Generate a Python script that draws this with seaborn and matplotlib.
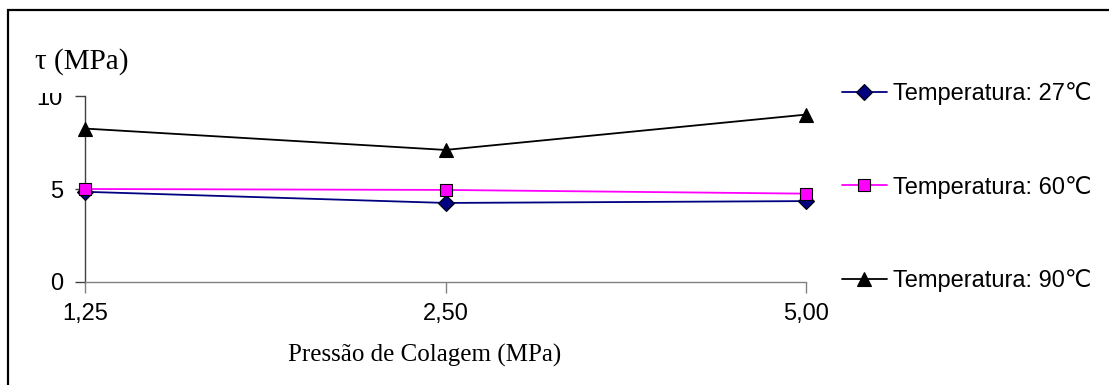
import matplotlib
matplotlib.use("Agg")
import matplotlib.pyplot as plt
import seaborn as sns
import pandas as pd
from matplotlib.patches import Rectangle
from matplotlib import font_manager

# ---- data ----
pressure_labels = ["1,25", "2,50", "5,00"]
series_names = ["Temperatura: 27\u2103", "Temperatura: 60\u2103", "Temperatura: 90\u2103"]
tau_27 = [4.85, 4.25, 4.35]
tau_60 = [5.0, 4.95, 4.75]
tau_90 = [8.25, 7.1, 9.0]
y_ticks = [0, 5, 10]

sns.set_theme(style="white")
plt.rcParams['font.family'] = ['Liberation Sans', 'DejaVu Sans']
plt.rcParams['text.color'] = 'black'
plt.rcParams['xtick.color'] = 'black'
plt.rcParams['ytick.color'] = 'black'
plt.rcParams['axes.labelcolor'] = 'black'

def has_font(name):
    try:
        font_manager.findfont(name, fallback_to_default=False)
        return True
    except Exception:
        return False

tick_family = ['Liberation Sans Narrow', 'Liberation Sans'] if has_font('Liberation Sans Narrow') else ['Liberation Sans']

W, H = 1109, 385
fig = plt.figure(figsize=(W / 100, H / 100), dpi=100)
fig.patch.set_facecolor("white")

left, right, bottom, top = 85, 806, 282, 96
ax = fig.add_axes([left / W, 1 - bottom / H, (right - left) / W, (bottom - top) / H])
ax.set_facecolor("white")

styles = [
    dict(color="#000080", marker="D", markersize=8, mfc="#000080", mec="black"),
    dict(color="#FF00FF", marker="s", markersize=9, mfc="#FF00FF", mec="black"),
    dict(color="black", marker="^", markersize=10, mfc="black", mec="black"),
]
xpos = list(range(len(pressure_labels)))
for name, vals, st in zip(series_names, [tau_27, tau_60, tau_90], styles):
    df = pd.DataFrame({"x": xpos, "y": vals})
    sns.lineplot(data=df, x="x", y="y", ax=ax, color=st["color"], linewidth=1.3,
                 marker=st["marker"], markersize=st["markersize"],
                 markerfacecolor=st["mfc"], markeredgecolor=st["mec"],
                 markeredgewidth=0.8, label=name, clip_on=False, zorder=3)

ax.set_xlim(0, 2)
ax.set_ylim(0, 10)
ax.set_xticks(xpos)
ax.set_xticklabels(pressure_labels)
ax.set_yticks(y_ticks)
ax.set_yticklabels([str(t) for t in y_ticks])
ax.set_xlabel("")
ax.set_ylabel("")

for s in ["top", "right"]:
    ax.spines[s].set_visible(False)
ax.spines["left"].set_color("#404040")
ax.spines["bottom"].set_color("#808080")
ax.spines["left"].set_linewidth(1.0)
ax.spines["bottom"].set_linewidth(1.0)
ax.tick_params(axis="y", direction="out", length=7, width=1.0, color="#404040", pad=9,
               labelsize=17, left=True, labelcolor="black")
ax.tick_params(axis="x", direction="out", length=8, width=1.0, color="#808080", pad=7,
               labelsize=17, bottom=True, labelcolor="black")
for lab in ax.get_xticklabels() + ax.get_yticklabels():
    lab.set_family(tick_family)

# x axis title
fig.text(425 / W, 1 - 355 / H, "Pressão de Colagem (MPa)", ha="center", va="center",
         fontsize=18, color="black", family=['Liberation Serif', 'DejaVu Serif'])

# y axis title with white background hiding top of "10"
fig.patches.append(Rectangle((28 / W, 1 - 93 / H), 150 / W, 55 / H, transform=fig.transFigure,
                             facecolor="white", edgecolor="none", zorder=5))
fig.text(35 / W, 1 - 62 / H, "\u03c4 (MPa)", ha="left", va="center", fontsize=21,
         color="black", family=['Liberation Serif', 'DejaVu Serif'], zorder=6)

# outer frame (only left & top visible)
fig.patches.append(Rectangle((8 / W, -0.1), 1.2, 1 - 10 / H + 0.1, transform=fig.transFigure,
                             facecolor="none", edgecolor="black", linewidth=1.6, zorder=7))

leg = ax.legend(loc="upper left", bbox_to_anchor=(842 / W, 1 - 82 / H),
                bbox_transform=fig.transFigure, frameon=False, fontsize=17,
                labelspacing=3.0, handlelength=1.9, handletextpad=0.28, borderaxespad=0,
                borderpad=0)
for t in leg.get_texts():
    t.set_family(['Liberation Sans', 'DejaVu Sans'])
    t.set_color("black")

fig.savefig("out.png", dpi=100, facecolor="white")
